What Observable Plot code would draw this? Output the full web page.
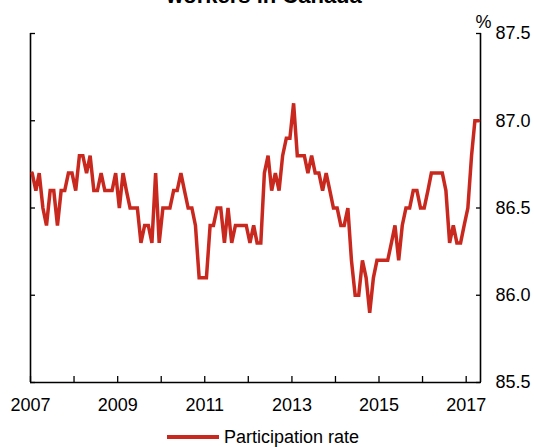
<!DOCTYPE html>
<html><head><meta charset="utf-8">
<script src="https://cdn.jsdelivr.net/npm/d3@7"></script>
<script src="https://cdn.jsdelivr.net/npm/@observablehq/plot@0.6"></script>
<style>
body{margin:0;background:#fff;font-family:"Liberation Sans",Arial,sans-serif;color:#000;}
#wrap{position:relative;width:534px;height:447px;overflow:hidden;background:#fff;}
#title{position:absolute;top:-15px;left:0;width:528px;text-align:center;font-weight:bold;font-size:22px;line-height:22px;}
#chart{position:absolute;top:0;left:0;}
#legend{position:absolute;top:427px;left:167px;display:flex;align-items:center;font-size:18px;line-height:20px;}
#legend .sw{display:inline-block;width:52px;height:4px;background:#c8281e;margin-right:5px;}
</style></head>
<body>
<div id="wrap">
  <div id="title">workers in Canada</div>
  <div id="chart"></div>
  <div id="legend"><span class="sw"></span><span id="legtext"></span></div>
</div>
<script>
// Monthly series, starting January 2007
const startYear = 2007;
const startMonth = 0;
const seriesName = "Participation rate";
const rate = [
  86.7, 86.6, 86.7, 86.5, 86.4, 86.6, 86.6, 86.4, 86.6, 86.6, 86.7, 86.7,  // 2007
  86.6, 86.8, 86.8, 86.7, 86.8, 86.6, 86.6, 86.7, 86.6, 86.6, 86.6, 86.7,  // 2008
  86.5, 86.7, 86.6, 86.5, 86.5, 86.5, 86.3, 86.4, 86.4, 86.3, 86.7, 86.3,  // 2009
  86.5, 86.5, 86.5, 86.6, 86.6, 86.7, 86.6, 86.5, 86.5, 86.4, 86.1, 86.1,  // 2010
  86.1, 86.4, 86.4, 86.5, 86.5, 86.3, 86.5, 86.3, 86.4, 86.4, 86.4, 86.4,  // 2011
  86.3, 86.4, 86.3, 86.3, 86.7, 86.8, 86.6, 86.7, 86.6, 86.8, 86.9, 86.9,  // 2012
  87.1, 86.8, 86.8, 86.8, 86.7, 86.8, 86.7, 86.7, 86.6, 86.7, 86.6, 86.5,  // 2013
  86.5, 86.4, 86.4, 86.5, 86.2, 86.0, 86.0, 86.2, 86.1, 85.9, 86.1, 86.2,  // 2014
  86.2, 86.2, 86.2, 86.3, 86.4, 86.2, 86.4, 86.5, 86.5, 86.6, 86.6, 86.5,  // 2015
  86.5, 86.6, 86.7, 86.7, 86.7, 86.7, 86.6, 86.3, 86.4, 86.3, 86.3, 86.4,  // 2016
  86.5, 86.8, 87.0, 87.0                                                    // 2017
];
const yTicks = [85.5, 86.0, 86.5, 87.0, 87.5];
const tickYears = [2007, 2008, 2009, 2010, 2011, 2012, 2013, 2014, 2015, 2016, 2017];
const labelYears = [2007, 2009, 2011, 2013, 2015, 2017];
const unitLabel = "%";

const data = rate.map((v, i) => ({date: new Date(Date.UTC(startYear, startMonth + i, 15)), value: v}));
const xDomain = [new Date(Date.UTC(startYear, startMonth, 1)), new Date(Date.UTC(startYear, startMonth + rate.length, 1))];
const tickDates = tickYears.map(y => new Date(Date.UTC(y, 0, 1)));
const labelDates = labelYears.map(y => new Date(Date.UTC(y, 0, 1)));

document.getElementById("legtext").textContent = seriesName;

const chart = Plot.plot({
  width: 534,
  height: 415,
  marginLeft: 30,
  marginRight: 54,
  marginTop: 33,
  marginBottom: 33,
  style: {fontFamily: "'Liberation Sans', Arial, sans-serif", fontSize: "18px", color: "#000", background: "transparent", overflow: "visible"},
  x: {type: "utc", domain: xDomain, label: null},
  y: {domain: [85.5, 87.5], label: null},
  marks: [
    Plot.axisX(tickDates, {anchor: "bottom", tickSize: 6, dy: -6, text: null, stroke: "#000", strokeWidth: 1.3}),
    Plot.axisX(labelDates, {anchor: "bottom", tickSize: 0, tickPadding: 16, tickFormat: d3.utcFormat("%Y"), fontSize: 18, fill: "#000"}),
    Plot.axisY(yTicks, {anchor: "right", tickSize: 5, dx: -5, text: null, stroke: "#000", strokeWidth: 1.3}),
    Plot.axisY(yTicks, {anchor: "left", tickSize: 5, dx: 5, text: null, stroke: "#000", strokeWidth: 1.3}),
    Plot.axisY(yTicks, {anchor: "right", tickSize: 0, tickPadding: 15, tickFormat: d => d.toFixed(1), fontSize: 18, fill: "#000"}),
    Plot.ruleX(xDomain, {stroke: "#000", strokeWidth: 1.6}),
    Plot.ruleY([yTicks[0]], {stroke: "#000", strokeWidth: 1.6}),
    Plot.line(data, {x: "date", y: "value", stroke: "#c8281e", strokeWidth: 3.5, strokeLinejoin: "miter", strokeMiterlimit: 3}),
    Plot.text([unitLabel], {frameAnchor: "top-right", dx: 3, dy: -18, fontSize: 18, fill: "#000", textAnchor: "middle"})
  ]
});
document.getElementById("chart").appendChild(chart);
</script>
</body></html>
